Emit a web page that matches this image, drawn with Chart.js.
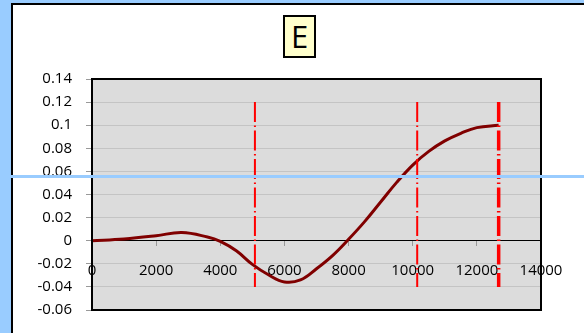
<!DOCTYPE html>
<html lang="en">
<head>
  <meta charset="UTF-8">
  <title>E</title>
  <script src="https://cdn.jsdelivr.net/npm/chart.js"></script>
  <style>
    html, body {
      margin: 0;
      padding: 0;
      width: 584px;
      height: 333px;
      overflow: hidden;
      background: #99ccff;
      font-family: "Open Sans", sans-serif;
    }

    #frame {
      position: absolute;
      left: 11px;
      top: 3px;
      width: 600px;
      height: 360px;
      background: #ffffff;
      border: 2px solid #000;
    }

    #chartBox {
      position: absolute;
      left: 0;
      top: 0;
      width: 584px;
      height: 333px;
    }

    #titleBox {
      position: absolute;
      left: 283px;
      top: 15px;
      width: 29px;
      height: 39px;
      background: #ffffcc;
      border: 2px solid #000;
      font-size: 31px;
      line-height: 39px;
      text-align: center;
      color: #000;
    }

    #blueLine {
      position: absolute;
      left: 0;
      top: 175px;
      width: 584px;
      height: 3px;
      background: #99ccff;
    }
  </style>
</head>
<body>
  <div id="frame"></div>
  <div id="chartBox"><canvas id="chart" width="584" height="333"></canvas></div>
  <div id="titleBox">E</div>
  <div id="blueLine"></div>

  <script>
    // valeurs
    const xVals = [0, 1000, 2000, 2800, 3600, 4000, 4500, 5000, 5500, 6000,
                   6500, 7000, 7500, 8000, 8500, 9000, 9500, 10000, 10500, 11000, 11500, 12000, 12680];
    const yVals = [0, 0.0015, 0.0043, 0.0071, 0.0032, -0.0006, -0.0087, -0.0205,
                   -0.0295, -0.0357, -0.034, -0.0243, -0.0129, 0.0012, 0.0165, 0.0335, 0.0505, 0.0655,
                   0.0773, 0.0864, 0.093, 0.0979, 0.1];

    // lignes verticales
    const vlineX = [5080, 10140, 12680];
    const vlineWidth = [2, 2, 3.5];
    const vlineTop = 0.12;
    const vlineBottom = -0.04;

    const yMin = -0.06, yMax = 0.14, yStep = 0.02;
    const xMin = 0, xMax = 14000, xStep = 2000;

    const curve = xVals.map((x, i) => ({ x: x, y: yVals[i] }));

    const datasets = [{
      data: curve,
      borderColor: '#800000',
      borderWidth: 3,
      pointRadius: 0,
      tension: 0.4,
      order: 2
    }];

    vlineX.forEach((x, i) => {
      datasets.push({
        data: [{ x: x, y: vlineTop }, { x: x, y: vlineBottom }],
        borderColor: '#ff0000',
        borderWidth: vlineWidth[i],
        borderDash: [20, 3.5, 1.5, 3.5],
        pointRadius: 0,
        tension: 0,
        order: 1
      });
    });

    // fond gris + cadre noir de la zone de tracé
    const plotFrame = {
      id: 'plotFrame',
      beforeDraw(chart) {
        const a = chart.chartArea, ctx = chart.ctx;
        ctx.save();
        ctx.fillStyle = '#dcdcdc';
        ctx.fillRect(a.left, a.top, a.right - a.left, a.bottom - a.top);
        ctx.restore();
      },
      afterDraw(chart) {
        const a = chart.chartArea, ctx = chart.ctx;
        ctx.save();
        ctx.strokeStyle = '#000';
        ctx.lineWidth = 2;
        ctx.strokeRect(a.left, a.top, a.right - a.left, a.bottom - a.top);
        ctx.restore();
      }
    };

    new Chart(document.getElementById('chart'), {
      type: 'line',
      data: { datasets },
      plugins: [plotFrame],
      options: {
        responsive: false,
        animation: false,
        layout: { padding: { left: 0, right: 43, top: 79, bottom: 21 } },
        plugins: {
          legend: { display: false },
          tooltip: { enabled: false }
        },
        scales: {
          x: {
            type: 'linear',
            position: { y: 0 },
            min: xMin,
            max: xMax,
            ticks: {
              stepSize: xStep,
              padding: 16,
              color: '#000',
              font: { family: 'Open Sans', size: 15 },
              maxRotation: 0,
              callback: v => String(v)
            },
            grid: {
              drawOnChartArea: false,
              drawTicks: true,
              tickLength: 5,
              tickColor: '#999'
            },
            border: { color: '#000', width: 1 }
          },
          y: {
            min: yMin,
            max: yMax,
            afterFit: s => { s.width = 92; },
            ticks: {
              stepSize: yStep,
              padding: 14,
              color: '#000',
              font: { family: 'Open Sans', size: 15 },
              callback: v => String(Number(v.toFixed(2)))
            },
            grid: {
              color: '#c4c4c4',
              lineWidth: 1,
              tickLength: 6,
              tickColor: '#999'
            },
            border: { color: '#000', width: 2 }
          }
        }
      }
    });
  </script>
</body>
</html>
